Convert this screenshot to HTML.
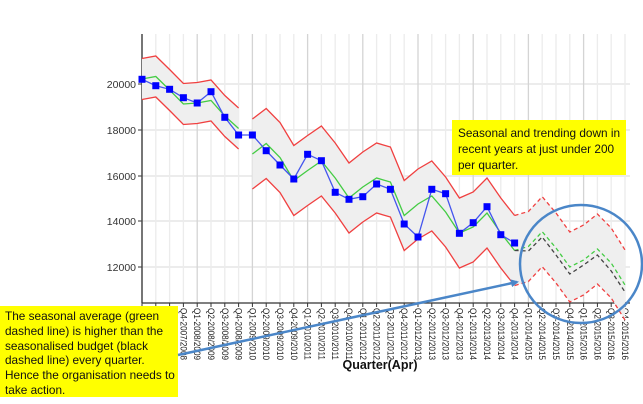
<!DOCTYPE html>
<html><head><meta charset="utf-8"><style>
body{margin:0;background:#fff;width:643px;height:404px;overflow:hidden;font-family:"Liberation Sans",sans-serif}
.box{position:absolute;background:#ffff00;color:#111;font-size:11.8px;line-height:14.8px;white-space:nowrap;font-family:"Liberation Sans",sans-serif}
</style></head><body>
<svg width="643" height="404" style="position:absolute;left:0;top:0" font-family="Liberation Sans, sans-serif">
<g id="grid"></g>
<g id="plot"></g>
</svg>
<div class="box" style="left:0;top:306px;width:173px;height:88px;padding:3px 0 0 5px">The seasonal average (green<br>dashed line) is higher than the<br>seasonalised budget (black<br>dashed line) every quarter.<br>Hence the organisation needs to<br>take action.</div>
<div class="box" style="left:452px;top:120px;width:168px;height:50px;padding:5px 0 0 6px;line-height:16px">Seasonal and trending down in<br>recent years at just under 200<br>per quarter.</div>
<svg width="643" height="404" style="position:absolute;left:0;top:0">
<defs><marker id="ah" markerWidth="8" markerHeight="8" refX="6" refY="4" orient="auto" markerUnits="userSpaceOnUse"><path d="M0,0 L8,4 L0,8 Z" fill="#4a86c8"/></marker></defs>
<line x1="178" y1="355" x2="517" y2="282" stroke="#4a86c8" stroke-width="2.5" marker-end="url(#ah)"/>
<ellipse cx="581" cy="264" rx="61" ry="59" fill="none" stroke="#4a86c8" stroke-width="2.5"/>
</svg>
<script>
(function(){
const NS="http://www.w3.org/2000/svg";
function el(p,t,a,txt){const e=document.createElementNS(NS,t);for(const k in a)e.setAttribute(k,a[k]);if(txt!==undefined)e.textContent=txt;p.appendChild(e);return e;}
const g=document.getElementById('grid'),p=document.getElementById('plot');
const X=i=>142+i*13.8;
const T0=34,B0=303;
[[20000,84],[18000,130],[16000,176],[14000,221],[12000,267]].forEach(([v,y])=>{
 el(g,'line',{x1:142,x2:630,y1:y,y2:y,stroke:'#e6e6e6','stroke-width':1.5});
 el(g,'line',{x1:138,x2:142,y1:y,y2:y,stroke:'#333'});
 el(g,'text',{x:136,y:y+4,'font-size':10.5,'text-anchor':'end',fill:'#333'},v);
});
const q=[];
for(let y=2007;y<=2015;y++)for(let k=1;k<=4;k++)q.push('Q'+k+'-'+y+'/'+(y+1));
for(let i=0;i<36;i++){
 el(g,'line',{x1:X(i),x2:X(i),y1:T0,y2:B0,stroke:i%4==0?'#d4d4d4':'#ececec','stroke-width':1.3});
 el(g,'line',{x1:X(i),x2:X(i),y1:B0,y2:B0+4,stroke:'#333'});
 el(g,'text',{x:X(i)-3,y:B0+5,'font-size':9,fill:'#222',textLength:52,lengthAdjust:'spacingAndGlyphs',transform:`rotate(90 ${X(i)-3} ${B0+5})`},q[i]);
}
el(g,'line',{x1:142,x2:142,y1:T0,y2:B0,stroke:'#333','stroke-width':1.3});
el(g,'line',{x1:142,x2:630,y1:B0,y2:B0,stroke:'#333','stroke-width':1.3});
el(g,'text',{x:380,y:369,'font-size':12.5,'font-weight':'bold','text-anchor':'middle',fill:'#111'},'Quarter(Apr)');
const green=[79,76.5,90,104,103,100.5,116,128.5, 154,143.5,157.5,180.5,170.5,161,178,198,187,178,182,215.5,204,196,212,233,227,213,233,250.5, 246.5,231.7,248,267,260,249,263,285];
const black={27:250.5,28:251,29:237,30:255,31:274,32:265,33:255,34:271,35:292};
const blue=[79.3,85.7,89.3,97.7,103,91.7,117.3,135,135,150.7,165,179,154.3,160.7,192.3,199.3,196.7,184,189.3,224,237,189.3,193.7,233.3,222.7,206.7,234.7,243];
function band(a,b,h){let up=[],lo=[];for(let i=a;i<=b;i++){up.push(X(i)+','+(green[i]-h));lo.unshift(X(i)+','+(green[i]+h));}
 el(p,'polygon',{points:up.concat(lo).join(' '),fill:'#efefef'});return [up,lo];}
function pl(pts,c,dash){el(p,'polyline',{points:pts.join(' '),fill:'none',stroke:c,'stroke-width':1.3,'stroke-dasharray':dash||'none'});}
[[0,7,20.5,''],[8,27,35,''],[27,35,35,'4,3']].forEach(([a,b,h,d])=>{const r=band(a,b,h);pl(r[0],'#f04040',d);pl(r[1],'#f04040',d);});
const gp=(a,b)=>{let r=[];for(let i=a;i<=b;i++)r.push(X(i)+','+green[i]);return r;};
pl(gp(0,7),'#44cc44');pl(gp(8,27),'#44cc44');pl(gp(27,35),'#44cc44','4,3');
let bp=[];for(let i=27;i<=35;i++)bp.push(X(i)+','+black[i]);pl(bp,'#444','4,3');
let bl=blue.map((y,i)=>X(i)+','+y);
el(p,'polyline',{points:bl.join(' '),fill:'none',stroke:'#4455ee','stroke-width':1.3});
blue.forEach((y,i)=>el(p,'rect',{x:X(i)-3.5,y:y-3.5,width:7,height:7,fill:'#0000ff'}));
})();
</script>
</body></html>
